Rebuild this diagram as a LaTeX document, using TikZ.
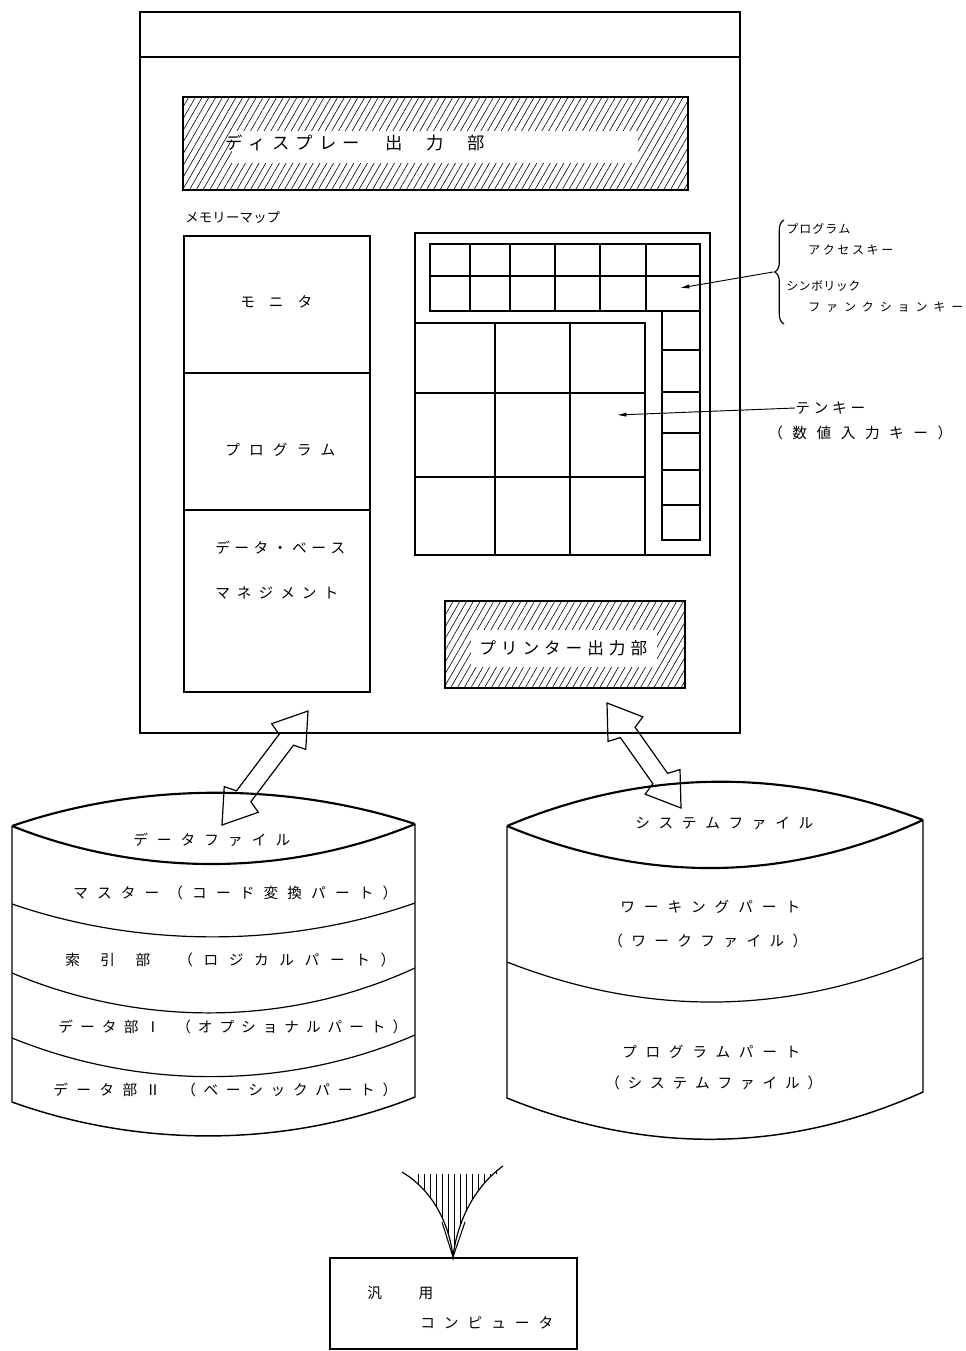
\documentclass[tikz,border=0pt]{standalone}
\usepackage{fontspec}
\newfontfamily\jp{Noto Sans CJK JP}
\usetikzlibrary{calc,patterns.meta,decorations.pathreplacing,arrows.meta}
\newlength\pxu \setlength\pxu{0.75pt}
\newcommand\spr[2]{{\spaceskip=0pt plus 1fil\relax\makebox[#1\pxu][s]{#2}}}
\newcommand\jsz[1]{\jp\fontsize{#1}{#1}\selectfont}
\newcommand\hollowdbl[2]{%
  \draw[dblarrow] (#1) -- ($(#1)!24pt!(#2)!16pt!90:(#2)$) -- ($(#1)!27pt!(#2)!6.75pt!90:(#2)$)
   -- ($(#2)!27pt!(#1)!6.75pt!-90:(#1)$) -- ($(#2)!24pt!(#1)!16pt!-90:(#1)$) -- (#2)
   -- ($(#2)!24pt!(#1)!16pt!90:(#1)$) -- ($(#2)!27pt!(#1)!6.75pt!90:(#1)$)
   -- ($(#1)!27pt!(#2)!6.75pt!-90:(#2)$) -- ($(#1)!24pt!(#2)!16pt!-90:(#2)$) -- cycle;}
\tikzset{
  txt/.style={inner sep=0pt, anchor=west, font=\jsz{11}},
  smalltxt/.style={inner sep=0pt, anchor=west, font=\jsz{9}},
  frame/.style={line width=1pt},
  keyline/.style={line width=0.9pt},
  hatchbox/.style={line width=1.5pt},
  hatchfill/.style={pattern={Lines[angle=60,distance=4.4pt,line width=0.45pt]}},
  cyltop/.style={line width=1.6pt},
  cylside/.style={line width=1.1pt},
  cyldiv/.style={line width=0.9pt},
  dblarrow/.style={line width=0.9pt, line join=miter},
  ptr/.style={-{Latex[length=7pt,width=3.2pt]}, line width=0.7pt},
}
\begin{document}
\begin{tikzpicture}[x=0.75pt,y=-0.75pt]
\fill[white] (0,0) rectangle (965,1351);
\useasboundingbox (0,0) rectangle (965,1351);

% ---------- main unit ----------
\draw[frame] (140,12) rectangle (740,733);
\draw[frame] (140,57) -- (740,57);
\coordinate (mainL) at (308,711);
\coordinate (mainR) at (607,703);

% display output
\fill[hatchfill] (183,97) rectangle (688,190);
\fill[white] (232,131) rectangle (638,163);
\draw[hatchbox] (183,97) rectangle (688,190);
\node[txt, font=\jsz{13}] (disp) at (225,143) {\spr{135}{デ ィ ス プ レ ー}\hspace{25\pxu}\spr{100}{出 力 部}};

% memory map
\node[txt, font=\jsz{10}] (memlabel) at (185,217) {\spr{95}{メ モ リ ー マ ッ プ}};
\draw[line width=1.2pt] (184,236) rectangle (370,692);
\draw[keyline] (184,373) -- (370,373);
\draw[keyline] (184,510) -- (370,510);
\node[txt] (monitor) at (240,302) {\spr{72}{モ ニ タ}};
\node[txt] (program) at (225,450) {\spr{110}{プ ロ グ ラ ム}};
\node[txt] (dbm1) at (215,548) {\spr{130}{デ ー タ ・ ベ ー ス}};
\node[txt] (dbm2) at (215,593) {\spr{123}{マ ネ ジ メ ン ト}};

% keyboard
\draw[line width=1.3pt] (415,233) rectangle (710,555);
\draw[keyline] (430,244) rectangle (700,311);
\draw[keyline] (430,276) -- (700,276);
\foreach \x in {470,510,555,600,646} \draw[keyline] (\x,244) -- (\x,311);
\draw[keyline] (662,311) rectangle (700,540);
\foreach \y in {350,392,433,470,505} \draw[keyline] (662,\y) -- (700,\y);
\draw[keyline] (415,323) -- (645,323) -- (645,555);
\foreach \x in {495,570} \draw[keyline] (\x,323) -- (\x,555);
\foreach \y in {393,477} \draw[keyline] (415,\y) -- (645,\y);
\coordinate (fkey) at (680,288);
\coordinate (tkey) at (617,415);

% printer output
\fill[hatchfill] (445,601) rectangle (685,688);
\fill[white] (471,630) rectangle (657,667);
\draw[hatchbox] (445,601) rectangle (685,688);
\node[txt, font=\jsz{12.5}] (printer) at (479,648) {\spr{168}{プ リ ン タ ー 出 力 部}};

% labels on the right
\draw[line width=0.9pt, decorate, decoration={brace, amplitude=7pt}] (784,324) -- (784,220);
\coordinate (bt) at (773,272);
\node[smalltxt] (pa1) at (786,229) {\spr{64}{プ ロ グ ラ ム}};
\node[smalltxt] (pa2) at (808,250) {\spr{85}{ア ク セ ス キ ー}};
\node[smalltxt] (sf1) at (786,286) {\spr{74}{シ ン ボ リ ッ ク}};
\node[smalltxt] (sf2) at (808,307) {\spr{155}{フ ァ ン ク シ ョ ン キ ー}};
\draw[ptr] (bt) -- (fkey);
\node[txt] (ten1) at (795,408) {\spr{70}{テ ン キ ー}};
\node[txt] (ten2) at (768,433) {\spr{184}{（ 数 値 入 力 キ ー ）}};
\draw[ptr] (ten1.west) -- (tkey);

% ---------- data file cylinder ----------
\draw[cyltop] (12,826) .. controls (140,782) and (287,782) .. (415,824);
\draw[cyltop] (12,826) .. controls (140,877) and (287,877) .. (415,824);
\draw[cylside] (12,826) -- (12,1102) .. controls (140,1148) and (287,1148) .. (415,1097) -- (415,824);
\draw[cyldiv] (12,904) .. controls (140,948) and (287,948) .. (415,903);
\draw[cyldiv] (12,973) .. controls (140,1027) and (287,1027) .. (415,968);
\draw[cyldiv] (12,1038) .. controls (140,1090) and (287,1090) .. (415,1035);
\coordinate (dfTop) at (222,825);
\node[txt] (df) at (133,840) {\spr{157}{デ ー タ フ ァ イ ル}};
\node[txt] (df1) at (73,893) {\spr{324}{マ ス タ ー （ コ ー ド 変 換 パ ー ト ）}};
\node[txt] (df2) at (65,960) {\spr{85}{索 引 部}\hspace{28\pxu}\spr{217}{（ ロ ジ カ ル パ ー ト ）}};
\node[txt] (df3) at (58,1027) {\spr{102}{デ ー タ 部 Ⅰ}\hspace{16\pxu}\spr{231}{（ オ プ シ ョ ナ ル パ ー ト ）}};
\node[txt] (df4) at (53,1090) {\spr{107}{デ ー タ 部 Ⅱ}\hspace{21\pxu}\spr{216}{（ ベ ー シ ッ ク パ ー ト ）}};

% ---------- system file cylinder ----------
\draw[cyltop] (507,826) .. controls (645,768) and (785,768) .. (923,820);
\draw[cyltop] (507,826) .. controls (645,883) and (785,883) .. (923,820);
\draw[cylside] (507,826) -- (507,1098) .. controls (645,1154) and (785,1154) .. (923,1092) -- (923,820);
\draw[cyldiv] (507,962) .. controls (645,1016) and (785,1016) .. (923,958);
\coordinate (sfTop) at (681,808);
\node[txt] (sf) at (635,823) {\spr{178}{シ ス テ ム フ ァ イ ル}};
\node[txt] (sfw1) at (620,907) {\spr{180}{ワ ー キ ン グ パ ー ト}};
\node[txt] (sfw2) at (608,941) {\spr{199}{（ ワ ー ク フ ァ イ ル ）}};
\node[txt] (sfp1) at (622,1052) {\spr{178}{プ ロ グ ラ ム パ ー ト}};
\node[txt] (sfp2) at (605,1083) {\spr{217}{（ シ ス テ ム フ ァ イ ル ）}};

% ---------- transfer arrows ----------
\hollowdbl{dfTop}{mainL}
\hollowdbl{mainR}{sfTop}

% ---------- general purpose computer ----------
\draw[line width=1.1pt] (330,1258) rectangle (577,1349);
\coordinate (ctip) at (453,1257);
\node[txt] (comp1) at (367,1293) {\spr{66}{汎 用}};
\node[txt] (comp2) at (420,1323) {\spr{133}{コ ン ピ ュ ー タ}};
\begin{scope}
  \clip (402,1172) .. controls (432,1190) and (449,1222) .. (ctip)
        .. controls (457,1222) and (474,1187) .. (503,1166) -- (503,1174) -- (402,1174) -- cycle;
  \foreach \x in {418,424,...,500} \draw[line width=0.6pt] (\x,1160) -- (\x,1260);
\end{scope}
\draw[line width=0.9pt] (402,1172) .. controls (432,1190) and (449,1222) .. (ctip)
        .. controls (457,1222) and (474,1187) .. (503,1166);
\draw[line width=0.8pt] (442,1222) -- (ctip) -- (465,1222);
\end{tikzpicture}
\end{document}
